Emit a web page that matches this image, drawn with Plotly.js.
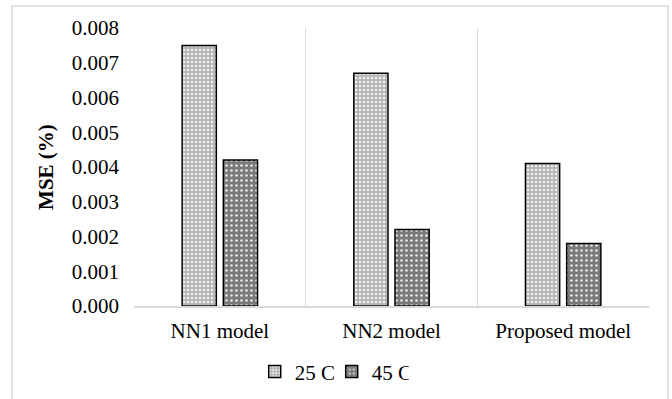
<!DOCTYPE html>
<html>
<head>
<meta charset="utf-8">
<script src="https://cdn.plot.ly/plotly-3.0.1.min.js"></script>
<style>html,body{margin:0;padding:0;background:#fff;}#chart{width:672px;height:399px;}</style>
</head>
<body>
<div id="chart"></div>
<script>
const categories = ["NN1 model", "NN2 model", "Proposed model"];
const series25 = [0.0075, 0.0067, 0.0041];
const series45 = [0.0042, 0.0022, 0.0018];
const seriesNames = ["25 C", "45 C"];
const yTicks = [0, 0.001, 0.002, 0.003, 0.004, 0.005, 0.006, 0.007, 0.008];

const font = {family: "Liberation Serif", size: 21, color: "#000"};

const traces = [
  {
    type: "bar", name: seriesNames[0], x: categories, y: series25,
    marker: {
      color: "#c8c8c8",
      line: {color: "#000", width: 1.5},
      pattern: {shape: ".", bgcolor: "#b4b4b4", fgcolor: "#f2f2f2", size: 4, solidity: 0.3, fillmode: "replace"}
    }
  },
  {
    type: "bar", name: seriesNames[1], x: categories, y: series45,
    marker: {
      color: "#808080",
      line: {color: "#000", width: 1.5},
      pattern: {shape: ".", bgcolor: "#7a7a7a", fgcolor: "#e6e6e6", size: 5, solidity: 0.22, fillmode: "replace"}
    }
  }
];

const layout = {
  width: 672, height: 399,
  margin: {l: 134, r: 23, t: 28, b: 93},
  paper_bgcolor: "#fff", plot_bgcolor: "#fff",
  font: font,
  barmode: "group",
  bargap: 0.52,
  bargroupgap: 0.17,
  showlegend: true,
  legend: {
    orientation: "h", xref: "container", yref: "container",
    x: 0.4936, xanchor: "center", y: 0.068, yanchor: "middle",
    entrywidth: 32, entrywidthmode: "pixels",
    font: font, traceorder: "normal"
  },
  xaxis: {
    type: "category",
    tickson: "boundaries",
    showgrid: true, gridcolor: "#d9d9d9", gridwidth: 1.5,
    showline: true, linecolor: "#d9d9d9", linewidth: 1.5,
    ticks: "", tickfont: font,
    ticklabelstandoff: 5,
    zeroline: false, fixedrange: true
  },
  yaxis: {
    range: [0, 0.008],
    tickvals: yTicks,
    tickformat: ".3f",
    showgrid: false, zeroline: false, showline: false,
    ticks: "", tickfont: font,
    ticklabelstandoff: 14,
    title: {text: "<b>MSE (%)</b>", font: font, standoff: 12}
  },
  shapes: [
    {type: "rect", xref: "paper", yref: "paper",
     x0: -0.2369, x1: 1.0369, y0: -0.37, y1: 1.0791,
     line: {color: "#d9d9d9", width: 1.5}, fillcolor: "rgba(0,0,0,0)", layer: "below"}
  ]
};

Plotly.newPlot("chart", traces, layout, {displayModeBar: false, staticPlot: true});
</script>
</body>
</html>
